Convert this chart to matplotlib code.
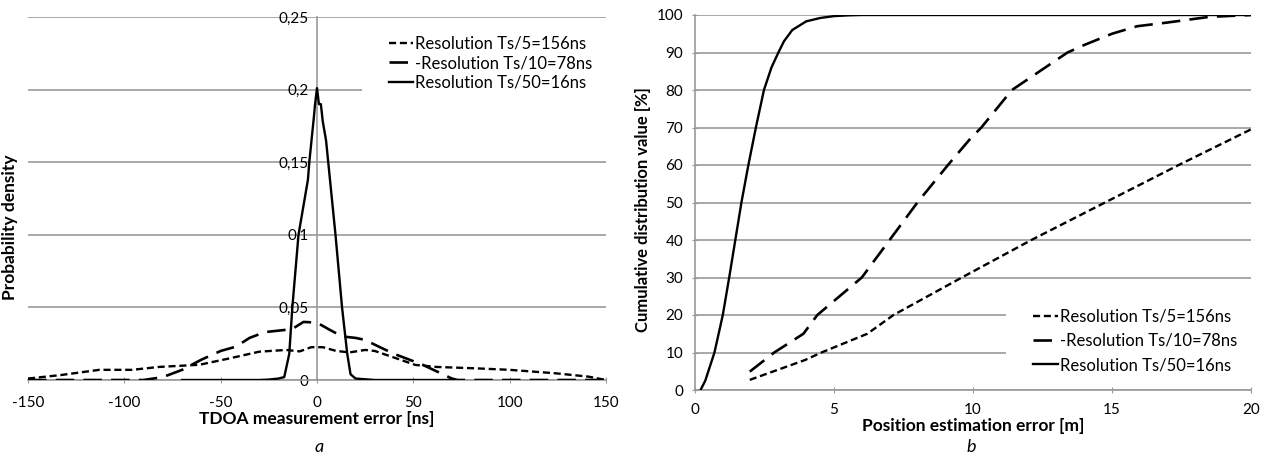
import numpy as np
import matplotlib
matplotlib.use("Agg")
import matplotlib.pyplot as plt
from matplotlib.patches import Rectangle

plt.rcParams['font.family'] = ['Lato', 'DejaVu Sans']
plt.rcParams['axes.unicode_minus'] = False

# panel a: probability density of TDOA error
labels = ['Resolution Ts/5=156ns', '-Resolution Ts/10=78ns', 'Resolution Ts/50=16ns']

a_x5 = [-150, -133, -113, -96, -82, -61, -45, -30, -16, -9, -3, 3, 10, 17, 25, 30, 41, 51, 62, 83, 100, 124, 141, 150]
a_y5 = [0.001, 0.0034, 0.007, 0.007, 0.009, 0.0105, 0.015, 0.0195, 0.0207, 0.0197, 0.0226, 0.0226, 0.020, 0.019, 0.0207, 0.020, 0.015, 0.0104, 0.009, 0.008, 0.007, 0.0046, 0.0023, 0.0]

a_x10 = [-150, -90, -80, -70, -60, -50, -42, -35, -27, -20, -13, -7, 0, 6, 13, 20, 25, 32, 40, 46, 55, 62, 70, 73, 150]
a_y10 = [0.0, 0.0, 0.002, 0.007, 0.014, 0.020, 0.023, 0.029, 0.033, 0.034, 0.035, 0.040, 0.0395, 0.035, 0.030, 0.029, 0.0276, 0.023, 0.018, 0.015, 0.0104, 0.006, 0.001, 0.0, 0.0]

a_x50 = [-70, -30, -25, -20, -17, -14.4, -12.8, -9.6, -4.7, -4, -1.7, -1, 0, 1, 2, 3, 4.7, 9.6, 13, 15.7, 17.4, 20, 30, 70]
a_y50 = [0.0, 0.0, 0.0003, 0.001, 0.002, 0.018, 0.05, 0.1, 0.138, 0.15, 0.18, 0.19, 0.201, 0.19, 0.19, 0.178, 0.165, 0.1, 0.05, 0.018, 0.004, 0.001, 0.0, 0.0]

a_xticks = [-150, -100, -50, 0, 50, 100, 150]
a_yticks = [0, 0.05, 0.1, 0.15, 0.2, 0.25]
a_yticklabels = ['0', '0,05', '0,1', '0,15', '0,2', '0,25']

# panel b: cumulative distribution of position error
b_x5 = [1.97, 3.96, 4.55, 6.2, 7.14, 9.6, 12.1, 14.75, 17.4, 20]
b_y5 = [2.7, 8, 10, 15, 20, 30, 40, 50, 60, 69.5]

b_x10 = [1.97, 2.85, 3.9, 4.4, 6.0, 7.0, 8.0, 9.1, 9.9, 10.3, 11.4, 11.8, 13.4, 14, 15, 15.9, 17, 18.5, 20]
b_y10 = [4.9, 10, 15, 20, 30, 40, 50, 60, 67, 70, 80, 82, 90, 92, 95, 97, 98, 99.5, 100]

b_x50 = [0.2, 0.37, 0.7, 1.0, 1.23, 1.45, 1.67, 1.92, 2.19, 2.48, 2.75, 3.0, 3.2, 3.5, 4.0, 4.5, 5.0, 5.5, 6.0, 20]
b_y50 = [0, 2.5, 10, 20, 30, 40, 50, 60, 70, 80, 86, 90, 93, 96, 98.3, 99.2, 99.7, 99.9, 100, 100]

b_xticks = [0, 5, 10, 15, 20]
b_yticks = list(range(0, 101, 10))

grid_c = '#999999'
ls5 = (0, (3, 1.6))
ls10 = (0, (7, 3.5))

fig = plt.figure(figsize=(12.61, 4.57), dpi=100)
ax1 = fig.add_axes([28/1261, 1-380/457, 578/1261, 363/457])
ax2 = fig.add_axes([695/1261, 1-390/457, 556/1261, 375/457])


def style_axes(ax):
    for s in ['top', 'right']:
        ax.spines[s].set_visible(False)
    for s in ['left', 'bottom']:
        ax.spines[s].set_color(grid_c)
        ax.spines[s].set_linewidth(1.2)
    ax.yaxis.grid(True, color=grid_c, lw=1.2)
    ax.set_axisbelow(True)


# --- left
ax1.plot(a_x5, a_y5, color='black', lw=1.7, ls=ls5, label=labels[0], zorder=3)
ax1.plot(a_x10, a_y10, color='black', lw=1.9, ls=ls10, label=labels[1], zorder=3)
ax1.plot(a_x50, a_y50, color='black', lw=1.7, ls='-', label=labels[2], zorder=3)
ax1.set_xlim(-150, 150)
ax1.set_ylim(0, 0.25)
ax1.set_xticks(a_xticks)
ax1.set_yticks(a_yticks)
ax1.set_yticklabels(a_yticklabels)
ax1.spines['left'].set_position(('data', 0))
style_axes(ax1)
ax1.tick_params(axis='x', direction='inout', length=5, color=grid_c, labelsize=11, pad=9)
ax1.tick_params(axis='y', length=0, labelsize=11, pad=6)
ax1.set_xlabel('TDOA measurement error [ns]', fontsize=12.5, fontweight='bold')
ax1.set_ylabel('Probability density', fontsize=12.5, fontweight='bold')
ax1.xaxis.set_label_coords(0.5, -0.085)
ax1.yaxis.set_label_coords(-0.017, 0.42)
# white legend background hiding the gridline behind it
ax1.add_patch(Rectangle((0.578, 0.72), 0.422, 0.2, transform=ax1.transAxes,
                        facecolor='white', edgecolor='none', zorder=1))
ax1.legend(loc='upper left', bbox_to_anchor=(0.6246, 0.948), frameon=False,
           fontsize=12, handlelength=1.45, handletextpad=0.1,
           labelspacing=0.2, borderaxespad=0, borderpad=0)

# --- right
ax2.plot(b_x5, b_y5, color='black', lw=1.7, ls=ls5, label=labels[0], zorder=3)
ax2.plot(b_x10, b_y10, color='black', lw=1.9, ls=ls10, label=labels[1], zorder=3)
ax2.plot(b_x50, b_y50, color='black', lw=1.7, ls='-', label=labels[2], zorder=3)
ax2.set_xlim(0, 20)
ax2.set_ylim(0, 100)
ax2.set_xticks(b_xticks)
ax2.set_yticks(b_yticks)
style_axes(ax2)
ax2.tick_params(axis='both', direction='inout', length=5, color=grid_c, labelsize=11)
ax2.tick_params(axis='x', pad=7)
ax2.tick_params(axis='y', pad=6)
ax2.set_xlabel('Position estimation error [m]', fontsize=12.5, fontweight='bold')
ax2.set_ylabel('Cumulative distribution value [%]', fontsize=12, fontweight='bold')
ax2.xaxis.set_label_coords(0.5, -0.075)
ax2.yaxis.set_label_coords(-0.079, 0.48)
ax2.add_patch(Rectangle((0.56, 0.05), 0.44, 0.2, transform=ax2.transAxes,
                        facecolor='white', edgecolor='none', zorder=1))
ax2.legend(loc='lower left', bbox_to_anchor=(0.608, 0.045), frameon=False,
           fontsize=12, handlelength=1.5, handletextpad=0.1,
           labelspacing=0.5, borderaxespad=0, borderpad=0)

fig.text(319/1261, 1-447/457, 'a', fontsize=13, style='italic', ha='center', va='center')
fig.text(971/1261, 1-447/457, 'b', fontsize=13, style='italic', ha='center', va='center')

fig.savefig('out.png', dpi=100)
